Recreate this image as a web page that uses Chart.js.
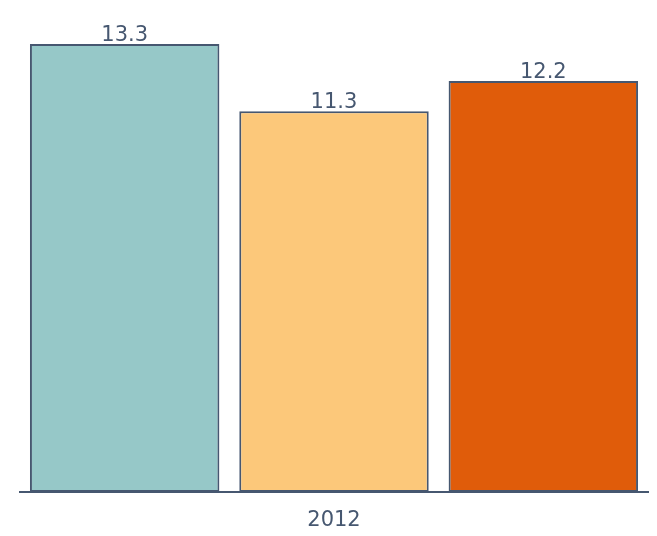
<!DOCTYPE html>
<html>
<head>
<meta charset="utf-8">
<script src="https://cdn.jsdelivr.net/npm/chart.js@4"></script>
<style>
  body { margin: 0; background: #fff; }
  #chart { display: block; }
</style>
</head>
<body>
<canvas id="chart" width="657" height="536"></canvas>
<script>
var categories = ['2012'];
var seriesNames = ['A', 'B', 'C'];
var seriesValues = [[13.3], [11.3], [12.2]];
var seriesColors = ['#96c8c8', '#fcc87a', '#e05c0a'];

var slate = '#465770';

// value labels over each bar
var barLabels = {
  id: 'barLabels',
  afterDatasetsDraw: function(chart){
    var ctx = chart.ctx;
    ctx.save();
    ctx.fillStyle = slate;
    ctx.font = '21px "DejaVu Sans"';
    ctx.textAlign = 'center';
    ctx.textBaseline = 'alphabetic';
    chart.data.datasets.forEach(function(ds, i){
      chart.getDatasetMeta(i).data.forEach(function(bar, j){
        ctx.fillText(ds.data[j].toFixed(1), bar.x, bar.y - 3);
      });
    });
    ctx.restore();
  }
};

var datasets = [];
for (var i = 0; i < seriesNames.length; i++){
  datasets.push({
    label: seriesNames[i],
    data: seriesValues[i],
    backgroundColor: seriesColors[i],
    borderColor: slate,
    borderWidth: 2,
    borderSkipped: false,
    categoryPercentage: 1.0,
    barPercentage: 0.905
  });
}

new Chart(document.getElementById('chart'), {
  type: 'bar',
  data: { labels: categories, datasets: datasets },
  plugins: [barLabels],
  options: {
    responsive: false,
    animation: false,
    layout: { padding: { left: 20, right: 9, top: 44, bottom: 0 } },
    plugins: { legend: { display: false }, tooltip: { enabled: false } },
    scales: {
      x: {
        grid: { display: false, drawTicks: false },
        border: { display: true, color: slate, width: 2 },
        ticks: { color: slate, padding: 16, font: { family: 'DejaVu Sans', size: 21 } },
        afterFit: function(s){ s.height = 44; }
      },
      y: {
        display: false,
        min: 0,
        max: 13.3
      }
    }
  }
});
</script>
</body>
</html>
